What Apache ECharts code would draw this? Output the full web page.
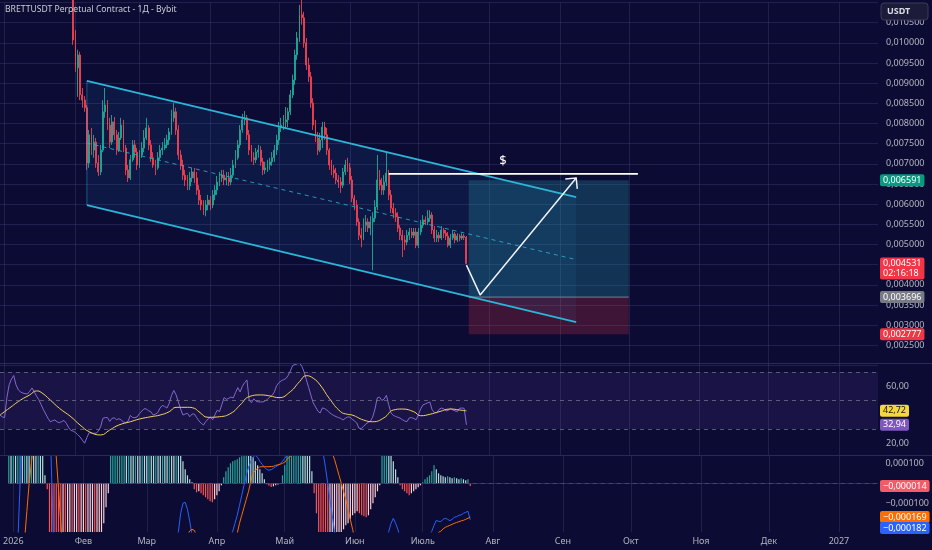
<!DOCTYPE html>
<html><head><meta charset="utf-8">
<script src="https://cdn.jsdelivr.net/npm/echarts@6/dist/echarts.min.js"></script>
<style>html,body{margin:0;padding:0;background:#0c0b34;}#c{width:932px;height:550px;}</style>
</head><body><div id="c"></div>
<script>
// ---------- categories (daily, 2025-12-30 .. 2027-01-18) ----------
const categories = [];
for (let k = 0, t = Date.UTC(2025, 11, 30); k < 385; k++, t += 86400000) categories.push(new Date(t).toISOString().slice(0, 10));
const monthNames = ['Янв','Фев','Мар','Апр','Май','Июн','Июль','Авг','Сен','Окт','Ноя','Дек'];
const priceTicks = { min: 0.002, max: 0.011, step: 0.0005 };
const rsiTickLabels = [20, 60];
const macdTickLabels = [-0.0001, 0.0001];

// ---------- candles [open, close, low, high], from 2026-01-31 ----------
const candleStart = '2026-01-31';
const candles = [
[0.01256,0.01007,0.00995,0.01305],[0.01007,0.00938,0.00928,0.01032],[0.00938,0.00970,0.00866,0.00983],[0.00970,0.00871,0.00858,0.00978],
[0.00871,0.00858,0.00839,0.00888],[0.00858,0.00839,0.00829,0.00868],[0.00839,0.00702,0.00685,0.00846],[0.00702,0.00772,0.00690,0.00784],
[0.00772,0.00734,0.00722,0.00789],[0.00734,0.00754,0.00715,0.00772],[0.00754,0.00702,0.00690,0.00764],[0.00702,0.00680,0.00670,0.00722],
[0.00680,0.00734,0.00672,0.00747],[0.00734,0.00829,0.00729,0.00858],[0.00829,0.00846,0.00814,0.00888],[0.00846,0.00796,0.00784,0.00858],
[0.00796,0.00754,0.00739,0.00814],[0.00754,0.00804,0.00747,0.00821],[0.00804,0.00772,0.00759,0.00816],[0.00772,0.00734,0.00722,0.00784],
[0.00734,0.00764,0.00729,0.00779],[0.00764,0.00796,0.00759,0.00814],[0.00796,0.00739,0.00729,0.00809],[0.00739,0.00685,0.00672,0.00747],
[0.00685,0.00665,0.00655,0.00697],[0.00665,0.00710,0.00660,0.00722],[0.00710,0.00747,0.00705,0.00759],[0.00747,0.00729,0.00715,0.00759],
[0.00729,0.00697,0.00685,0.00739],[0.00697,0.00722,0.00690,0.00734],[0.00722,0.00739,0.00715,0.00754],[0.00739,0.00764,0.00729,0.00784],
[0.00764,0.00789,0.00759,0.00814],[0.00789,0.00747,0.00734,0.00796],[0.00747,0.00715,0.00705,0.00759],[0.00715,0.00697,0.00690,0.00729],
[0.00697,0.00690,0.00672,0.00710],[0.00690,0.00715,0.00685,0.00729],[0.00715,0.00734,0.00710,0.00747],[0.00734,0.00739,0.00722,0.00754],
[0.00739,0.00747,0.00734,0.00764],[0.00747,0.00759,0.00739,0.00772],[0.00759,0.00779,0.00747,0.00789],[0.00779,0.00814,0.00772,0.00834],
[0.00814,0.00829,0.00804,0.00851],[0.00829,0.00784,0.00772,0.00839],[0.00784,0.00722,0.00710,0.00796],[0.00722,0.00697,0.00685,0.00734],
[0.00697,0.00672,0.00660,0.00710],[0.00672,0.00660,0.00645,0.00685],[0.00660,0.00645,0.00635,0.00672],[0.00645,0.00665,0.00635,0.00680],
[0.00665,0.00680,0.00655,0.00690],[0.00680,0.00665,0.00652,0.00690],[0.00665,0.00635,0.00623,0.00680],[0.00635,0.00610,0.00598,0.00647],
[0.00610,0.00598,0.00585,0.00623],[0.00598,0.00585,0.00573,0.00610],[0.00585,0.00598,0.00570,0.00610],[0.00598,0.00610,0.00585,0.00623],
[0.00610,0.00598,0.00585,0.00620],[0.00598,0.00623,0.00590,0.00635],[0.00623,0.00635,0.00610,0.00647],[0.00635,0.00655,0.00623,0.00670],
[0.00655,0.00665,0.00645,0.00680],[0.00665,0.00672,0.00655,0.00685],[0.00672,0.00660,0.00647,0.00685],[0.00660,0.00665,0.00647,0.00680],
[0.00665,0.00655,0.00645,0.00680],[0.00655,0.00672,0.00647,0.00690],[0.00672,0.00697,0.00665,0.00710],[0.00697,0.00715,0.00690,0.00734],
[0.00715,0.00747,0.00710,0.00759],[0.00747,0.00784,0.00739,0.00796],[0.00784,0.00809,0.00777,0.00824],[0.00809,0.00814,0.00796,0.00831],
[0.00814,0.00772,0.00759,0.00821],[0.00772,0.00734,0.00722,0.00784],[0.00734,0.00715,0.00705,0.00747],[0.00715,0.00710,0.00697,0.00729],
[0.00710,0.00729,0.00702,0.00739],[0.00729,0.00734,0.00715,0.00747],[0.00734,0.00705,0.00695,0.00744],[0.00705,0.00685,0.00672,0.00715],
[0.00685,0.00690,0.00675,0.00705],[0.00690,0.00697,0.00680,0.00710],[0.00697,0.00705,0.00685,0.00715],[0.00705,0.00715,0.00695,0.00729],
[0.00715,0.00734,0.00705,0.00747],[0.00734,0.00759,0.00722,0.00772],[0.00759,0.00789,0.00747,0.00804],[0.00789,0.00796,0.00779,0.00814],
[0.00796,0.00804,0.00784,0.00821],[0.00804,0.00809,0.00789,0.00841],[0.00809,0.00829,0.00791,0.00839],[0.00829,0.00871,0.00821,0.00883],
[0.00871,0.00908,0.00863,0.00921],[0.00908,0.00970,0.00896,0.00983],[0.00970,0.01012,0.00958,0.01027],[0.01012,0.01070,0.01002,0.01094],
[0.01070,0.01062,0.01045,0.01112],[0.01062,0.01000,0.00988,0.01077],[0.01000,0.00945,0.00933,0.01012],[0.00945,0.00916,0.00903,0.00963],
[0.00916,0.00851,0.00839,0.00928],[0.00851,0.00796,0.00784,0.00863],[0.00796,0.00764,0.00754,0.00809],[0.00764,0.00734,0.00722,0.00779],
[0.00734,0.00759,0.00729,0.00777],[0.00759,0.00791,0.00739,0.00804],[0.00791,0.00772,0.00759,0.00804],[0.00772,0.00734,0.00722,0.00789],
[0.00734,0.00697,0.00685,0.00739],[0.00697,0.00685,0.00672,0.00710],[0.00685,0.00677,0.00665,0.00697],[0.00677,0.00660,0.00650,0.00690],
[0.00660,0.00655,0.00640,0.00672],[0.00655,0.00647,0.00628,0.00667],[0.00647,0.00680,0.00640,0.00690],[0.00680,0.00697,0.00672,0.00710],
[0.00697,0.00690,0.00680,0.00715],[0.00690,0.00660,0.00650,0.00702],[0.00660,0.00615,0.00605,0.00670],[0.00615,0.00598,0.00585,0.00623],
[0.00598,0.00556,0.00546,0.00610],[0.00556,0.00523,0.00511,0.00565],[0.00523,0.00516,0.00493,0.00541],[0.00516,0.00548,0.00511,0.00565],
[0.00548,0.00556,0.00531,0.00573],[0.00556,0.00541,0.00531,0.00565],[0.00541,0.00556,0.00523,0.00570],[0.00556,0.00565,0.00436,0.00580],
[0.00565,0.00593,0.00556,0.00610],[0.00593,0.00660,0.00585,0.00722],[0.00660,0.00647,0.00635,0.00685],[0.00647,0.00635,0.00623,0.00665],
[0.00635,0.00655,0.00623,0.00672],[0.00655,0.00677,0.00645,0.00727],[0.00677,0.00623,0.00610,0.00685],[0.00623,0.00590,0.00578,0.00635],
[0.00590,0.00578,0.00565,0.00603],[0.00578,0.00568,0.00556,0.00590],[0.00568,0.00541,0.00531,0.00580],[0.00541,0.00523,0.00511,0.00548],
[0.00523,0.00511,0.00469,0.00536],[0.00511,0.00506,0.00486,0.00523],[0.00506,0.00523,0.00498,0.00536],[0.00523,0.00531,0.00511,0.00541],
[0.00531,0.00523,0.00516,0.00541],[0.00523,0.00531,0.00516,0.00541],[0.00531,0.00498,0.00491,0.00541],[0.00498,0.00531,0.00491,0.00541],
[0.00531,0.00548,0.00523,0.00561],[0.00548,0.00561,0.00541,0.00573],[0.00561,0.00556,0.00548,0.00570],[0.00556,0.00565,0.00548,0.00585],
[0.00565,0.00573,0.00556,0.00585],[0.00573,0.00536,0.00526,0.00580],[0.00536,0.00516,0.00506,0.00546],[0.00516,0.00523,0.00506,0.00536],
[0.00523,0.00516,0.00506,0.00531],[0.00516,0.00536,0.00511,0.00546],[0.00536,0.00528,0.00516,0.00541],[0.00528,0.00521,0.00511,0.00536],
[0.00521,0.00498,0.00493,0.00531],[0.00498,0.00516,0.00491,0.00526],[0.00516,0.00526,0.00511,0.00536],[0.00526,0.00511,0.00503,0.00531],
[0.00511,0.00521,0.00506,0.00528],[0.00521,0.00516,0.00508,0.00526],[0.00516,0.00521,0.00511,0.00528],[0.00521,0.00518,0.00511,0.00526],
[0.00518,0.004531,0.00451,0.00521]
];

// ---------- indicators, daily from 2025-12-30 ----------
const rsi = [
39.8,38.5,38,52,61,65,67.5,61,57.5,56, 55.2,54.8,54.6,56.5,58.8,56,53,50.5,47,43.5,
40.5,37.5,35,35.8,36.3,35,34.4,35.2,36,34, 31,29,28.5,27.5,26,24.4,22.2,20,24,27.5,
27,27,27,28.5,31.5,37.5,38,38,35.3,37.5, 37.8,36.5,37.2,36.5,34.8,34.4,35.5,39.5,38,38,
38.5,40.8,42.5,44.2,44,42.8,42,39.8,40.5,41.5, 44.7,46.5,45.8,44.7,48,53.5,57,54,49,44,
39.8,40.5,41,38.6,40.5,40.5,38,35.7,34,32.8, 35.2,37,38.2,36.5,40,43.2,42.2,47,52,50.8,
51.5,52.4,51.8,55.5,59,56,60,62.5,64.4,50, 48.5,51.2,49.5,49,49,49,49.8,50.8,52.4,53.5,
56,60.5,62.5,63.8,64.6,65.3,67.5,70.7,74.5,75.3, 75.7,76.3,74,70,64.5,59,53.5,48.3,45.5,42.6,
41.2,44.8,44.3,43.2,41.6,40.4,39.4,38.7,38,37.5, 36.3,37.5,38.4,38.4,36.8,35.7,34.3,30.5,30.3,31.8,
33.5,34.6,35.5,38.3,44,51.8,52.4,50,51,53.6, 47,41.2,39.6,38.8,38.2,37.6,36.5,35.6,35.2,37.8,
38,37.3,36.5,40,44.2,46.9,47.6,48.3,49,43.4, 41.6,41.3,43.7,44.7,44.2,42.7,43,44.5,43.4,42.7,
42.2,44.5,44.7,44.5,32.94
];
const rsiMA = [
['2025-12-30',39.8],['2026-01-03',44.5],['2026-01-08',50.3],['2026-01-12',53.9],['2026-01-15',56.7],['2026-01-17',55.7],
['2026-01-21',50.3],['2026-01-25',44.5],['2026-01-30',38.6],['2026-02-03',32.8],['2026-02-07',28.1],['2026-02-12',25.8],
['2026-02-16',29.3],['2026-02-20',32.8],['2026-02-25',35.1],['2026-03-01',37],['2026-03-06',38.6],['2026-03-10',39.8],
['2026-03-14',42.1],['2026-03-17',45.2],['2026-03-22',45.2],['2026-03-25',44.5],['2026-03-27',42.1],['2026-03-31',38.2],
['2026-04-05',38.6],['2026-04-10',41],['2026-04-14',46.8],['2026-04-18',52.7],['2026-04-23',53.9],['2026-04-27',53.2],
['2026-05-01',52],['2026-05-06',56.2],['2026-05-10',63.2],['2026-05-13',67.4],['2026-05-16',65.6],['2026-05-19',60.9],
['2026-05-23',51.5],['2026-05-28',42.1],['2026-05-31',40.3],['2026-06-02',39.8],['2026-06-07',36.3],['2026-06-11',35.1],
['2026-06-16',37.9],['2026-06-20',43.3],['2026-06-24',44],['2026-06-29',42.1],['2026-07-02',39.3],['2026-07-06',40.3],
['2026-07-10',42.1],['2026-07-15',44],['2026-07-19',43.3],['2026-07-22',42.72]
];
const macdHist = [
0.00026,0.00024,0.00027,0.00025,0.00029,0.00033,0.00031,0.00034,0.00032,0.00030,
0.00033,0.00031,0.00028,0.00030,0.00024,0.00014,0.00004,-0.00003,-0.00025,-0.00045,
-0.0006,-0.00072,-0.0008,-0.00085,-0.00083,-0.00086,-0.00082,-0.00078,-0.0008,-0.00076,
-0.00072,-0.00074,-0.0007,-0.00066,-0.00068,-0.00063,-0.0006,-0.00058,-0.0006,-0.00055,
-0.00036,-0.00028,-0.0002,-0.00012,-0.00005,0.00015,0.00024,0.00033,0.0004,0.00045,
0.00048,0.0005,0.00049,0.00051,0.0005,0.00048,0.0005,0.00049,0.00046,0.00047,
0.00045,0.00043,0.00044,0.0004,0.00038,0.00039,0.00036,0.00034,0.00035,0.00032,
0.0003,0.00031,0.00028,0.00027,0.00028,0.00024,0.00017,0.00011,0.00007,0.00004,
0.00002,0.000005,-0.00003,-0.000045,-0.00004,-0.00005,-0.00006,-0.00007,-0.00008,-0.00009,
-0.000095,-0.00008,-0.00006,-0.00004,-0.00001,0.00003,0.00006,0.00008,0.0001,0.00011,
0.000115,0.00012,0.00013,0.000135,0.00014,0.00015,0.000145,0.00014,0.00013,0.00011,
0.00009,0.00007,0.00005,0.00002,-0.000005,-0.000012,-0.000018,-0.000015,-0.00001,-0.000006,
-0.000002,0.00004,0.00009,0.00014,0.0002,0.00026,0.00031,0.00036,0.0004,0.00042,
0.0004,0.0003,0.00022,0.00016,0.00006,-0.00005,-0.00015,-0.00025,-0.00032,-0.00038,
-0.00042,-0.00045,-0.00043,-0.0004,-0.00036,-0.00032,-0.00028,-0.00025,-0.00023,-0.00021,
-0.0002,-0.00018,-0.00016,-0.00015,-0.00014,-0.00015,-0.00016,-0.000165,-0.00017,-0.00016,
-0.00013,-0.0001,-0.00007,-0.00004,-0.00001,0.00015,0.0002,0.00022,0.0002,0.00016,
0.00011,0.00007,0.00003,-0.00001,-0.00003,-0.00004,-0.00005,-0.00006,-0.00005,-0.00004,
-0.00003,-0.00002,-0.00001,0.000005,0.00002,0.00003,0.00004,0.00006,0.00009,0.00007,
0.00005,0.00004,0.000035,0.00003,0.000035,0.00003,0.000025,0.00003,0.000025,0.00002,
0.000025,0.00002,0.000015,0.00002,-0.000014
];
const macdLine = [
-0.0009,-0.0008,-0.0007,-0.00055,-0.0003,0.0,0.0003,0.0006,0.0009,0.0011,
0.0012,0.0013,0.0013,0.0013,0.0012,0.0011,0.001,0.0008,0.0004,0.00002,
-0.00035,-0.0007,-0.001,-0.0012,-0.0014,-0.0015,-0.0016,-0.0016,-0.0016,-0.0016,
-0.0016,-0.0016,-0.0016,-0.0017,-0.0018,-0.0019,-0.0019,-0.0019,-0.0019,-0.0018,
-0.0018,-0.0017,-0.0016,-0.0015,-0.0014,-0.0013,-0.0012,-0.0011,-0.001,-0.00095,
-0.0009,-0.00085,-0.0008,-0.00078,-0.00075,-0.0007,-0.00068,-0.00065,-0.00063,-0.0006,
-0.00058,-0.00055,-0.00052,-0.0005,-0.00048,-0.00046,-0.00045,-0.00043,-0.00042,-0.0004,
-0.00038,-0.00036,-0.00034,-0.00032,-0.0003,-0.00024,-0.00015,-0.0001,-0.000095,-0.00013,
-0.00019,-0.00026,-0.00033,-0.0004,-0.00045,-0.00048,-0.0005,-0.00052,-0.00053,-0.00053,
-0.00052,-0.0005,-0.00047,-0.00044,-0.0004,-0.00037,-0.00034,-0.0003,-0.00027,-0.00024,
-0.0002,-0.00016,-0.00011,-0.00006,-0.00001,0.00004,0.00008,0.00011,0.00013,0.00014,
0.00013,0.00011,0.000095,0.00008,0.00007,0.000065,0.000068,0.000075,0.000082,0.00009,
0.000098,0.00011,0.000125,0.00014,0.00017,0.0002,0.00025,0.00032,0.0004,0.0005,
0.00058,0.00062,0.00062,0.00058,0.0005,0.00042,0.00034,0.00027,0.0002,0.00015,
0.00008,0.0,-0.00008,-0.00016,-0.00024,-0.00032,-0.0004,-0.00047,-0.00052,-0.00057,
-0.0006,-0.00063,-0.00065,-0.00067,-0.00069,-0.0007,-0.00071,-0.00071,-0.0007,-0.00067,
-0.00062,-0.00056,-0.0005,-0.00045,-0.0004,-0.00035,-0.0003,-0.00028,-0.00024,-0.0002,
-0.000175,-0.0002,-0.00023,-0.00027,-0.0003,-0.00032,-0.00033,-0.00034,-0.00034,-0.00034,
-0.00033,-0.00032,-0.00031,-0.0003,-0.0003,-0.00028,-0.00026,-0.00024,-0.00021,-0.000185,
-0.00019,-0.000192,-0.00018,-0.000175,-0.00018,-0.000187,-0.00018,-0.00017,-0.000167,-0.00016,
-0.000158,-0.00015,-0.000145,-0.00014,-0.000182
];
const macdSignal = [
-0.0004,-0.00045,-0.00048,-0.0005,-0.0005,-0.00045,-0.00038,-0.00028,-0.00014,0.0,
0.0001,0.0002,0.0003,0.0004,0.0005,0.00058,0.00063,0.00065,0.00062,0.0005,
0.00035,0.00013,-0.00003,-0.0002,-0.00035,-0.0005,-0.00065,-0.00078,-0.0009,-0.001,
-0.0011,-0.0012,-0.0013,-0.0014,-0.0015,-0.0016,-0.0016,-0.0017,-0.0017,-0.0017,
-0.0017,-0.0017,-0.0017,-0.0016,-0.0016,-0.00155,-0.0015,-0.00145,-0.0014,-0.00135,
-0.0013,-0.00125,-0.0012,-0.00115,-0.0011,-0.00105,-0.001,-0.00095,-0.0009,-0.00086,
-0.00082,-0.00078,-0.00074,-0.0007,-0.00067,-0.00064,-0.00061,-0.00058,-0.00055,-0.00052,
-0.0005,-0.00047,-0.00045,-0.00042,-0.0004,-0.00038,-0.00035,-0.00032,-0.00029,-0.00026,
-0.000238,-0.00023,-0.000235,-0.00026,-0.0003,-0.00034,-0.00038,-0.00041,-0.00044,-0.00046,
-0.00047,-0.00047,-0.00047,-0.00046,-0.00045,-0.00044,-0.00042,-0.0004,-0.00038,-0.00035,
-0.0003,-0.00025,-0.0002,-0.00016,-0.00012,-0.00008,-0.00004,0.00001,0.00005,0.000065,
0.000075,0.000082,0.000083,0.000083,0.000083,0.000083,0.000084,0.000085,0.00009,0.000092,
0.000095,0.0001,0.000105,0.00012,0.00013,0.00014,0.00016,0.0002,0.00025,0.0003,
0.00036,0.00041,0.00045,0.00047,0.00047,0.00045,0.00042,0.00037,0.00032,0.00027,
0.00023,0.00019,0.00017,0.00015,0.00012,0.00008,0.00004,0.0,-0.00004,-0.00008,
-0.00013,-0.00018,-0.00023,-0.00028,-0.00033,-0.00037,-0.00041,-0.00044,-0.00047,-0.00049,
-0.0005,-0.0005,-0.0005,-0.00049,-0.00048,-0.00047,-0.00046,-0.00045,-0.00044,-0.00043,
-0.00042,-0.00041,-0.0004,-0.00039,-0.00038,-0.00037,-0.00036,-0.00036,-0.00035,-0.00035,
-0.00035,-0.00034,-0.00034,-0.00033,-0.00033,-0.00032,-0.00031,-0.0003,-0.0003,-0.00027,
-0.000245,-0.00024,-0.000228,-0.00022,-0.000215,-0.00021,-0.000205,-0.0002,-0.000196,-0.000192,
-0.000188,-0.000185,-0.00018,-0.000175,-0.000169
];

// ---------- drawings ----------
const channelDates = ['2026-02-06', '2026-09-08'];
const channelUpper = [0.009057, 0.006177];
const channelMid = [0.007517, 0.004625];
const channelLower = [0.005978, 0.003073];
const levelDates = ['2026-06-18', '2026-10-05'];
const levelPrice = 0.00675;
const levelLabelDate = '2026-08-07';
const positionDates = ['2026-07-23', '2026-10-01'];
const positionPrices = [0.006591, 0.003696, 0.002777]; // target, entry, stop
const arrowDates = ['2026-07-22', '2026-07-28', '2026-09-08'];
const arrowPrices = [0.00449, 0.00375, 0.00665];
const lastPrice = 0.004531;
const lastTimer = '02:16:18';
const rsiBands = [70, 50, 30];

// ---------- build ----------
const FONT = '"Noto Sans", Roboto, sans-serif';
const BG = '#0c0b34', GRID = 'rgba(58,58,110,0.45)', AXIS_TXT = '#b2b5be';
const UP = '#1fa896', DOWN = '#f0414f', CH = '#2bb5d6';
const idx = d => categories.indexOf(d);
const fmtPrice = v => v.toFixed(6).replace('.', ',');
const fmtSigned = (v, n) => (v < 0 ? '\u2212' : '') + Math.abs(v).toFixed(n).replace('.', ',');

const candleData = new Array(categories.length).fill('-');
candles.forEach((c, k) => { candleData[idx(candleStart) + k] = c; });

const histData = macdHist.map((v, k) => {
  const p = k > 0 ? macdHist[k - 1] : v;
  let col;
  if (v >= 0) col = v >= p ? '#26a69a' : '#b2dfdb';
  else col = v <= p ? '#ff5252' : '#ffcdd2';
  return { value: v, itemStyle: { color: col } };
});

const isMonthStart = (i, v) => v.slice(8) === '01';
const xAxes = [0, 1, 2].map(g => ({
  type: 'category', gridIndex: g, data: categories, boundaryGap: false,
  axisLine: { show: false }, axisTick: { show: false },
  axisLabel: g === 2 ? {
    show: true, interval: isMonthStart, color: AXIS_TXT, fontSize: 9, fontFamily: FONT, margin: 5,
    alignMinLabel: 'center', alignMaxLabel: 'center',
    formatter: v => { const m = +v.slice(5, 7); return m === 1 ? v.slice(0, 4) : monthNames[m - 1]; }
  } : { show: false },
  splitLine: { show: true, interval: isMonthStart, lineStyle: { color: GRID, width: 1 } }
}));

const lineSeries = (name, data, style, extra) => Object.assign({
  name, type: 'line', xAxisIndex: 0, yAxisIndex: 0, data, symbol: 'none', silent: true,
  animation: false, lineStyle: style, z: 5
}, extra || {});

const option = {
  backgroundColor: BG,
  animation: false,
  grid: [
    { left: 0, right: 54, top: 2.5, height: 363 },
    { left: 0, right: 54, top: 364, height: 91 },
    { left: 0, right: 54, top: 456, height: 76 }
  ],
  xAxis: xAxes,
  yAxis: [
    { type: 'value', gridIndex: 0, position: 'right', min: priceTicks.min, max: priceTicks.max, interval: priceTicks.step,
      axisLine: { show: false }, axisTick: { show: false },
      axisLabel: { color: AXIS_TXT, fontSize: 9, fontFamily: FONT, margin: 8, showMinLabel: false, showMaxLabel: false, formatter: fmtPrice },
      splitLine: { lineStyle: { color: GRID } } },
    { type: 'value', gridIndex: 1, position: 'right', min: 11.75, max: 75.6,
      axisLine: { show: false }, axisTick: { show: false },
      axisLabel: { color: AXIS_TXT, fontSize: 9, fontFamily: FONT, margin: 8, customValues: rsiTickLabels, formatter: v => v.toFixed(2).replace('.', ',') },
      splitLine: { show: false } },
    { type: 'value', gridIndex: 2, position: 'right', min: -0.0002435, max: 0.0001365,
      axisLine: { show: false }, axisTick: { show: false },
      axisLabel: { color: AXIS_TXT, fontSize: 9, fontFamily: FONT, margin: 8, customValues: macdTickLabels, formatter: v => fmtSigned(v, 6) },
      splitLine: { show: false } }
  ],
  series: [
    // channel fill
    { type: 'custom', xAxisIndex: 0, yAxisIndex: 0, silent: true, z: 1, encode: { x: 0, y: 1 },
      data: [[idx(channelDates[0]), channelUpper[0], channelLower[0], idx(channelDates[1]), channelUpper[1], channelLower[1]]],
      renderItem: (p, api) => ({ type: 'polygon', shape: { points: [
        api.coord([api.value(0), api.value(1)]), api.coord([api.value(3), api.value(4)]),
        api.coord([api.value(3), api.value(5)]), api.coord([api.value(0), api.value(2)]) ] },
        style: { fill: 'rgba(41,150,230,0.10)' } }) },
    // position boxes
    { type: 'custom', xAxisIndex: 0, yAxisIndex: 0, silent: true, z: 1, encode: { x: 0, y: 1 },
      data: [
        [idx(positionDates[0]), positionPrices[0], idx(positionDates[1]), positionPrices[1], 0],
        [idx(positionDates[0]), positionPrices[1], idx(positionDates[1]), positionPrices[2], 1]
      ],
      renderItem: (p, api) => {
        const a = api.coord([api.value(0), api.value(1)]), b = api.coord([api.value(2), api.value(3)]);
        return { type: 'rect', shape: { x: a[0], y: a[1], width: b[0] - a[0], height: b[1] - a[1] },
          style: { fill: api.value(4) === 0 ? 'rgba(38,160,170,0.27)' : 'rgba(242,54,69,0.22)' } };
      } },
    // candles
    { type: 'candlestick', xAxisIndex: 0, yAxisIndex: 0, data: candleData, barWidth: 1.4, clip: true, silent: true, z: 3,
      itemStyle: { color: UP, color0: DOWN, borderColor: UP, borderColor0: DOWN, borderWidth: 0.9 },
      markLine: { symbol: 'none', silent: true, animation: false, label: { show: false },
        data: [{ yAxis: lastPrice, lineStyle: { color: 'rgba(242,54,69,0.75)', type: 'dotted', width: 1 } }] } },
    // channel lines
    lineSeries('upper', channelDates.map((d, k) => [d, channelUpper[k]]), { color: CH, width: 1.8 }),
    lineSeries('lower', channelDates.map((d, k) => [d, channelLower[k]]), { color: CH, width: 1.8 }),
    lineSeries('mid', channelDates.map((d, k) => [d, channelMid[k]]), { color: CH, width: 1, type: [4, 4], opacity: 0.8 }),
    lineSeries('edge', [[channelDates[0], channelUpper[0]], [channelDates[0], channelLower[0]]], { color: CH, width: 1, opacity: 0.45 }),
    // entry line
    lineSeries('entry', positionDates.map(d => [d, positionPrices[1]]), { color: 'rgba(160,163,180,0.7)', width: 1 }),
    // level line
    lineSeries('level', levelDates.map(d => [d, levelPrice]), { color: '#ffffff', width: 1.8 }),
    // arrow path
    lineSeries('arrow', arrowDates.map((d, k) => [d, arrowPrices[k]]), { color: '#f0f2f8', width: 1.5 }),
    // RSI
    { name: 'RSI', type: 'line', xAxisIndex: 1, yAxisIndex: 1, data: rsi, symbol: 'none', silent: true,
      lineStyle: { color: '#8468cf', width: 1 },
      markArea: { silent: true, itemStyle: { color: 'rgba(126,87,194,0.13)' }, data: [[{ yAxis: rsiBands[0] }, { yAxis: rsiBands[2] }]] },
      markLine: { symbol: 'none', silent: true, label: { show: false },
        lineStyle: { color: 'rgba(120,123,134,0.7)', type: [4, 4], width: 1 },
        data: rsiBands.map(b => ({ yAxis: b })) } },
    { name: 'RSI MA', type: 'line', xAxisIndex: 1, yAxisIndex: 1, data: rsiMA, symbol: 'none', silent: true, smooth: true,
      lineStyle: { color: '#f3d35c', width: 1 } },
    // MACD
    { name: 'Hist', type: 'bar', xAxisIndex: 2, yAxisIndex: 2, data: histData, barWidth: 1.2, silent: true,
      markLine: { symbol: 'none', silent: true, label: { show: false },
        data: [
          { yAxis: 0, lineStyle: { color: 'rgba(190,150,175,0.6)', type: [4, 4], width: 1 } },
          { yAxis: macdTickLabels[0], lineStyle: { color: GRID, type: 'solid', width: 1 } },
          { yAxis: macdTickLabels[1], lineStyle: { color: GRID, type: 'solid', width: 1 } }
        ] } },
    { name: 'MACD', type: 'line', xAxisIndex: 2, yAxisIndex: 2, data: macdLine, symbol: 'none', silent: true,
      lineStyle: { color: '#2962ff', width: 1 } },
    { name: 'Signal', type: 'line', xAxisIndex: 2, yAxisIndex: 2, data: macdSignal, symbol: 'none', silent: true,
      lineStyle: { color: '#ff6d00', width: 1 } }
  ]
};

const chart = echarts.init(document.getElementById('c'));
chart.setOption(option);

// ---------- overlays positioned through the chart's own scales ----------
const py = (axis, v) => chart.convertToPixel({ yAxisIndex: axis }, v);
const pxy = (d, v) => chart.convertToPixel({ xAxisIndex: 0, yAxisIndex: 0 }, [d, v]);
const tag = (y, text, bg, fg, vAlign) => ({
  type: 'text', x: 880, y, z: 100,
  style: { text, fill: fg, backgroundColor: bg, padding: [1, 3, 1, 3], fontSize: 9, fontFamily: FONT,
    lineHeight: 10, verticalAlign: vAlign || 'middle', align: 'left', borderRadius: 2 }
});
const tip = pxy(arrowDates[2], arrowPrices[2]);
const prev = pxy(arrowDates[1], arrowPrices[1]);
const ang = Math.atan2(tip[1] - prev[1], tip[0] - prev[0]);
const L = 11, spread = Math.PI / 4;
const h1 = [tip[0] - L * Math.cos(ang - spread), tip[1] - L * Math.sin(ang - spread)];
const h2 = [tip[0] - L * Math.cos(ang + spread), tip[1] - L * Math.sin(ang + spread)];
const dollarPos = pxy(levelLabelDate, levelPrice);

const yOrange = py(2, macdSignal[macdSignal.length - 1]);
let yBlue = py(2, macdLine[macdLine.length - 1]);
if (yBlue - yOrange < 11) yBlue = yOrange + 11;

chart.setOption({
  graphic: [
    { type: 'line', z: 50, shape: { x1: 0, y1: 363.5, x2: 932, y2: 363.5 }, style: { stroke: '#2a2a5a', lineWidth: 1 } },
    { type: 'line', z: 50, shape: { x1: 0, y1: 455.5, x2: 932, y2: 455.5 }, style: { stroke: '#2a2a5a', lineWidth: 1 } },
    { type: 'polyline', z: 60, shape: { points: [h1, tip, h2] }, style: { stroke: '#f0f2f8', lineWidth: 1.5, fill: null } },
    { type: 'text', z: 60, x: dollarPos[0], y: dollarPos[1] - 13, style: { text: '$', fill: '#ffffff', fontSize: 13, fontFamily: FONT, align: 'center', verticalAlign: 'middle' } },
    { type: 'text', z: 60, x: 5, y: 10, style: { text: 'BRETTUSDT Perpetual Contract - 1Д - Bybit', fill: '#c9ccd6', fontSize: 8.6, fontFamily: FONT, verticalAlign: 'middle' } },
    { type: 'rect', z: 90, shape: { x: 881, y: 3, width: 47, height: 17, r: 3 }, style: { fill: '#1c1c3a', stroke: '#3a3a5e', lineWidth: 1 } },
    { type: 'text', z: 91, x: 887, y: 11.5, style: { text: 'USDT', fill: '#d8dae2', fontSize: 9, fontWeight: 'bold', fontFamily: FONT, verticalAlign: 'middle' } },
    tag(py(0, positionPrices[0]), fmtPrice(positionPrices[0]), '#089981', '#ffffff'),
    tag(py(0, lastPrice) - 6, fmtPrice(lastPrice) + '\n' + lastTimer, '#f23645', '#ffffff', 'top'),
    tag(py(0, positionPrices[1]), fmtPrice(positionPrices[1]), '#787b86', '#ffffff'),
    tag(py(0, positionPrices[2]), fmtPrice(positionPrices[2]), '#f23645', '#ffffff'),
    tag(py(1, rsiMA[rsiMA.length - 1][1]), rsiMA[rsiMA.length - 1][1].toFixed(2).replace('.', ','), '#f5d63d', '#131722'),
    tag(py(1, rsi[rsi.length - 1]), rsi[rsi.length - 1].toFixed(2).replace('.', ','), '#7e57c2', '#ffffff'),
    tag(py(2, macdHist[macdHist.length - 1]), fmtSigned(macdHist[macdHist.length - 1], 6), '#f45b69', '#ffffff'),
    tag(yOrange, fmtSigned(macdSignal[macdSignal.length - 1], 6), '#ff6d00', '#ffffff'),
    tag(yBlue, fmtSigned(macdLine[macdLine.length - 1], 6), '#2962ff', '#ffffff')
  ]
});
</script>
</body></html>
